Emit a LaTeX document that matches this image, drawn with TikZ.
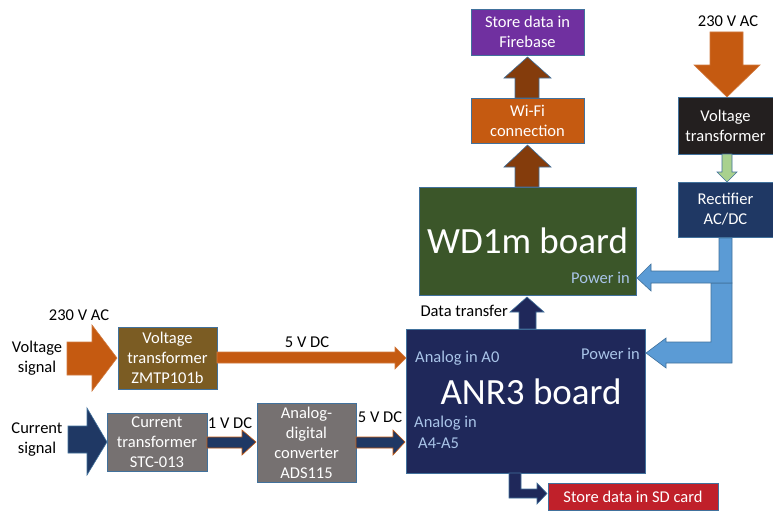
\documentclass[tikz,border=0pt]{standalone}
\usepackage{fontspec}
\setmainfont{Carlito}
\definecolor{cpurple}{HTML}{7030A0}
\definecolor{corange}{HTML}{C55A11}
\definecolor{cbrown}{HTML}{843C0C}
\definecolor{cgreen}{HTML}{3B5629}
\definecolor{cblack}{HTML}{231F1F}
\definecolor{cnavy}{HTML}{1F3864}
\definecolor{canr}{HTML}{1F285A}
\definecolor{cred}{HTML}{C0202A}
\definecolor{cgold}{HTML}{7B5C23}
\definecolor{cgrey}{HTML}{767171}
\definecolor{clblue}{HTML}{5B9BD5}
\definecolor{cedge}{HTML}{41719C}
\definecolor{clgreen}{HTML}{A9D18E}
\definecolor{ctext}{HTML}{A9C4E8}
\begin{document}
\begin{tikzpicture}[x=1pt,y=-1pt,
  box/.style={draw=cedge,line width=0.7pt,inner sep=0pt,text=white,align=center,
    font=\fontsize{16.5}{20}\selectfont},
  lbl/.style={inner sep=0pt,font=\fontsize{16.5}{20}\selectfont,align=center},
  inlbl/.style={inner sep=0pt,font=\fontsize{16.5}{20}\selectfont,text=ctext},
  barrow/.style={draw=cedge,line width=0.6pt,line join=miter}]
\useasboundingbox[fill=white] (0,0) rectangle (773,511);

% boxes
\node[box,fill=cpurple,minimum width=113pt,minimum height=46pt] (fb) at (527.5,32) {Store data in\\Firebase};
\node[box,fill=corange,minimum width=113pt,minimum height=45pt] (wifi) at (527.5,120.5) {Wi-Fi\\connection};
\node[box,fill=cgreen,minimum width=217pt,minimum height=108pt] (wd) at (527.5,241) {};
\node[inner sep=0pt,text=white,font=\fontsize{37}{40}\selectfont] (wdt) at (527.5,241) {WD1m board};
\node[inlbl,anchor=east] (wdp) at (630,278) {Power in};
\node[box,fill=cblack,minimum width=95pt,minimum height=57pt] (vt) at (725.5,125.5) {Voltage\\transformer};
\node[box,fill=cnavy,minimum width=95pt,minimum height=55pt] (rect) at (725.5,209.5) {Rectifier\\AC/DC};
\node[box,fill=canr,minimum width=239pt,minimum height=144pt] (anr) at (525.5,401) {};
\node[inner sep=0pt,text=white,font=\fontsize{37}{40}\selectfont] (anrt) at (531,392) {ANR3 board};
\node[inlbl,anchor=west] (a0) at (415,358) {Analog in A0};
\node[inlbl,anchor=east] (anrp) at (640,354) {Power in};
\node[inlbl,anchor=west] (a4) at (414,423) {Analog in};
\node[inlbl,anchor=west] (a45) at (418,443) {A4-A5};
\node[box,fill=cred,minimum width=170pt,minimum height=27pt] (sd) at (633,496.5) {Store data in SD card};
\node[box,fill=cgold,minimum width=99pt,minimum height=62pt] (zm) at (167.5,358) {Voltage\\transformer\\ZMTP101b};
\node[box,fill=cgrey,minimum width=100pt,minimum height=58pt] (stc) at (157,442) {Current\\transformer\\STC-013};
\node[box,fill=cgrey,minimum width=99pt,minimum height=79pt] (adc) at (306.5,442.5) {Analog-\\digital\\converter\\ADS115};

% labels
\node[lbl] (l230a) at (728,21) {230 V AC};
\node[lbl] (l230b) at (79,315) {230 V AC};
\node[lbl] (lvs) at (37,358) {Voltage\\signal};
\node[lbl] (lcs) at (37,440) {Current\\signal};
\node[lbl] (l5a) at (307,342) {5 V DC};
\node[lbl] (l1) at (230,423) {1 V DC};
\node[lbl] (l5b) at (380,417) {5 V DC};
\node[lbl,anchor=east] (ldt) at (508,311) {Data transfer};

% block arrows
\filldraw[barrow,fill=cbrown] (515,98)--(515,78)--(504,78)--(527.5,57)--(551,78)--(539,78)--(539,98)--cycle;
\filldraw[barrow,fill=cbrown] (515,187)--(515,167)--(504,167)--(527.5,145)--(551,167)--(539,167)--(539,187)--cycle;
\filldraw[draw=corange!80!white,line width=0.6pt,fill=corange] (710,32)--(743,32)--(743,65)--(760,65)--(727,97)--(694,65)--(710,65)--cycle;
\filldraw[barrow,fill=clgreen] (722,154)--(732,154)--(732,172)--(737,172)--(727,182)--(717,172)--(722,172)--cycle;
\filldraw[barrow,fill=canr] (519,329)--(519,312)--(510,312)--(527,297)--(544,312)--(536,312)--(536,329)--cycle;
% power branches
\filldraw[barrow,fill=clblue] (711,283)--(732,283)--(732,363)--(666,363)--(666,368)--(646,353)--(666,338)--(666,342)--(711,342)--cycle;
\filldraw[barrow,fill=clblue] (719,238)--(732,238)--(732,283)--(651,283)--(651,291)--(637,278)--(651,264)--(651,271)--(719,271)--cycle;
% SD bent arrow
\filldraw[barrow,fill=canr] (509,473)--(521,473)--(521,489)--(537,489)--(537,483)--(547,493.5)--(537,504)--(537,498)--(509,498)--cycle;
% left side
\filldraw[draw=corange!80!white,line width=0.6pt,fill=corange] (67,342)--(92,342)--(92,325)--(117,358)--(92,391)--(92,375)--(67,375)--cycle;
\filldraw[draw=corange!80!white,line width=0.6pt,fill=corange] (217,352)--(395,352)--(395,347)--(406,358)--(395,369)--(395,363)--(217,363)--cycle;
\filldraw[barrow,fill=cnavy] (68,426)--(87,426)--(87,408)--(107,442)--(87,475)--(87,453)--(68,453)--cycle;
\filldraw[draw=corange,line width=0.6pt,fill=cnavy] (207,437)--(242,437)--(242,430)--(256,442)--(242,455)--(242,448)--(207,448)--cycle;
\filldraw[draw=corange,line width=0.6pt,fill=cnavy] (356,437)--(393,437)--(393,430)--(405,442)--(393,455)--(393,448)--(356,448)--cycle;
\end{tikzpicture}
\end{document}
